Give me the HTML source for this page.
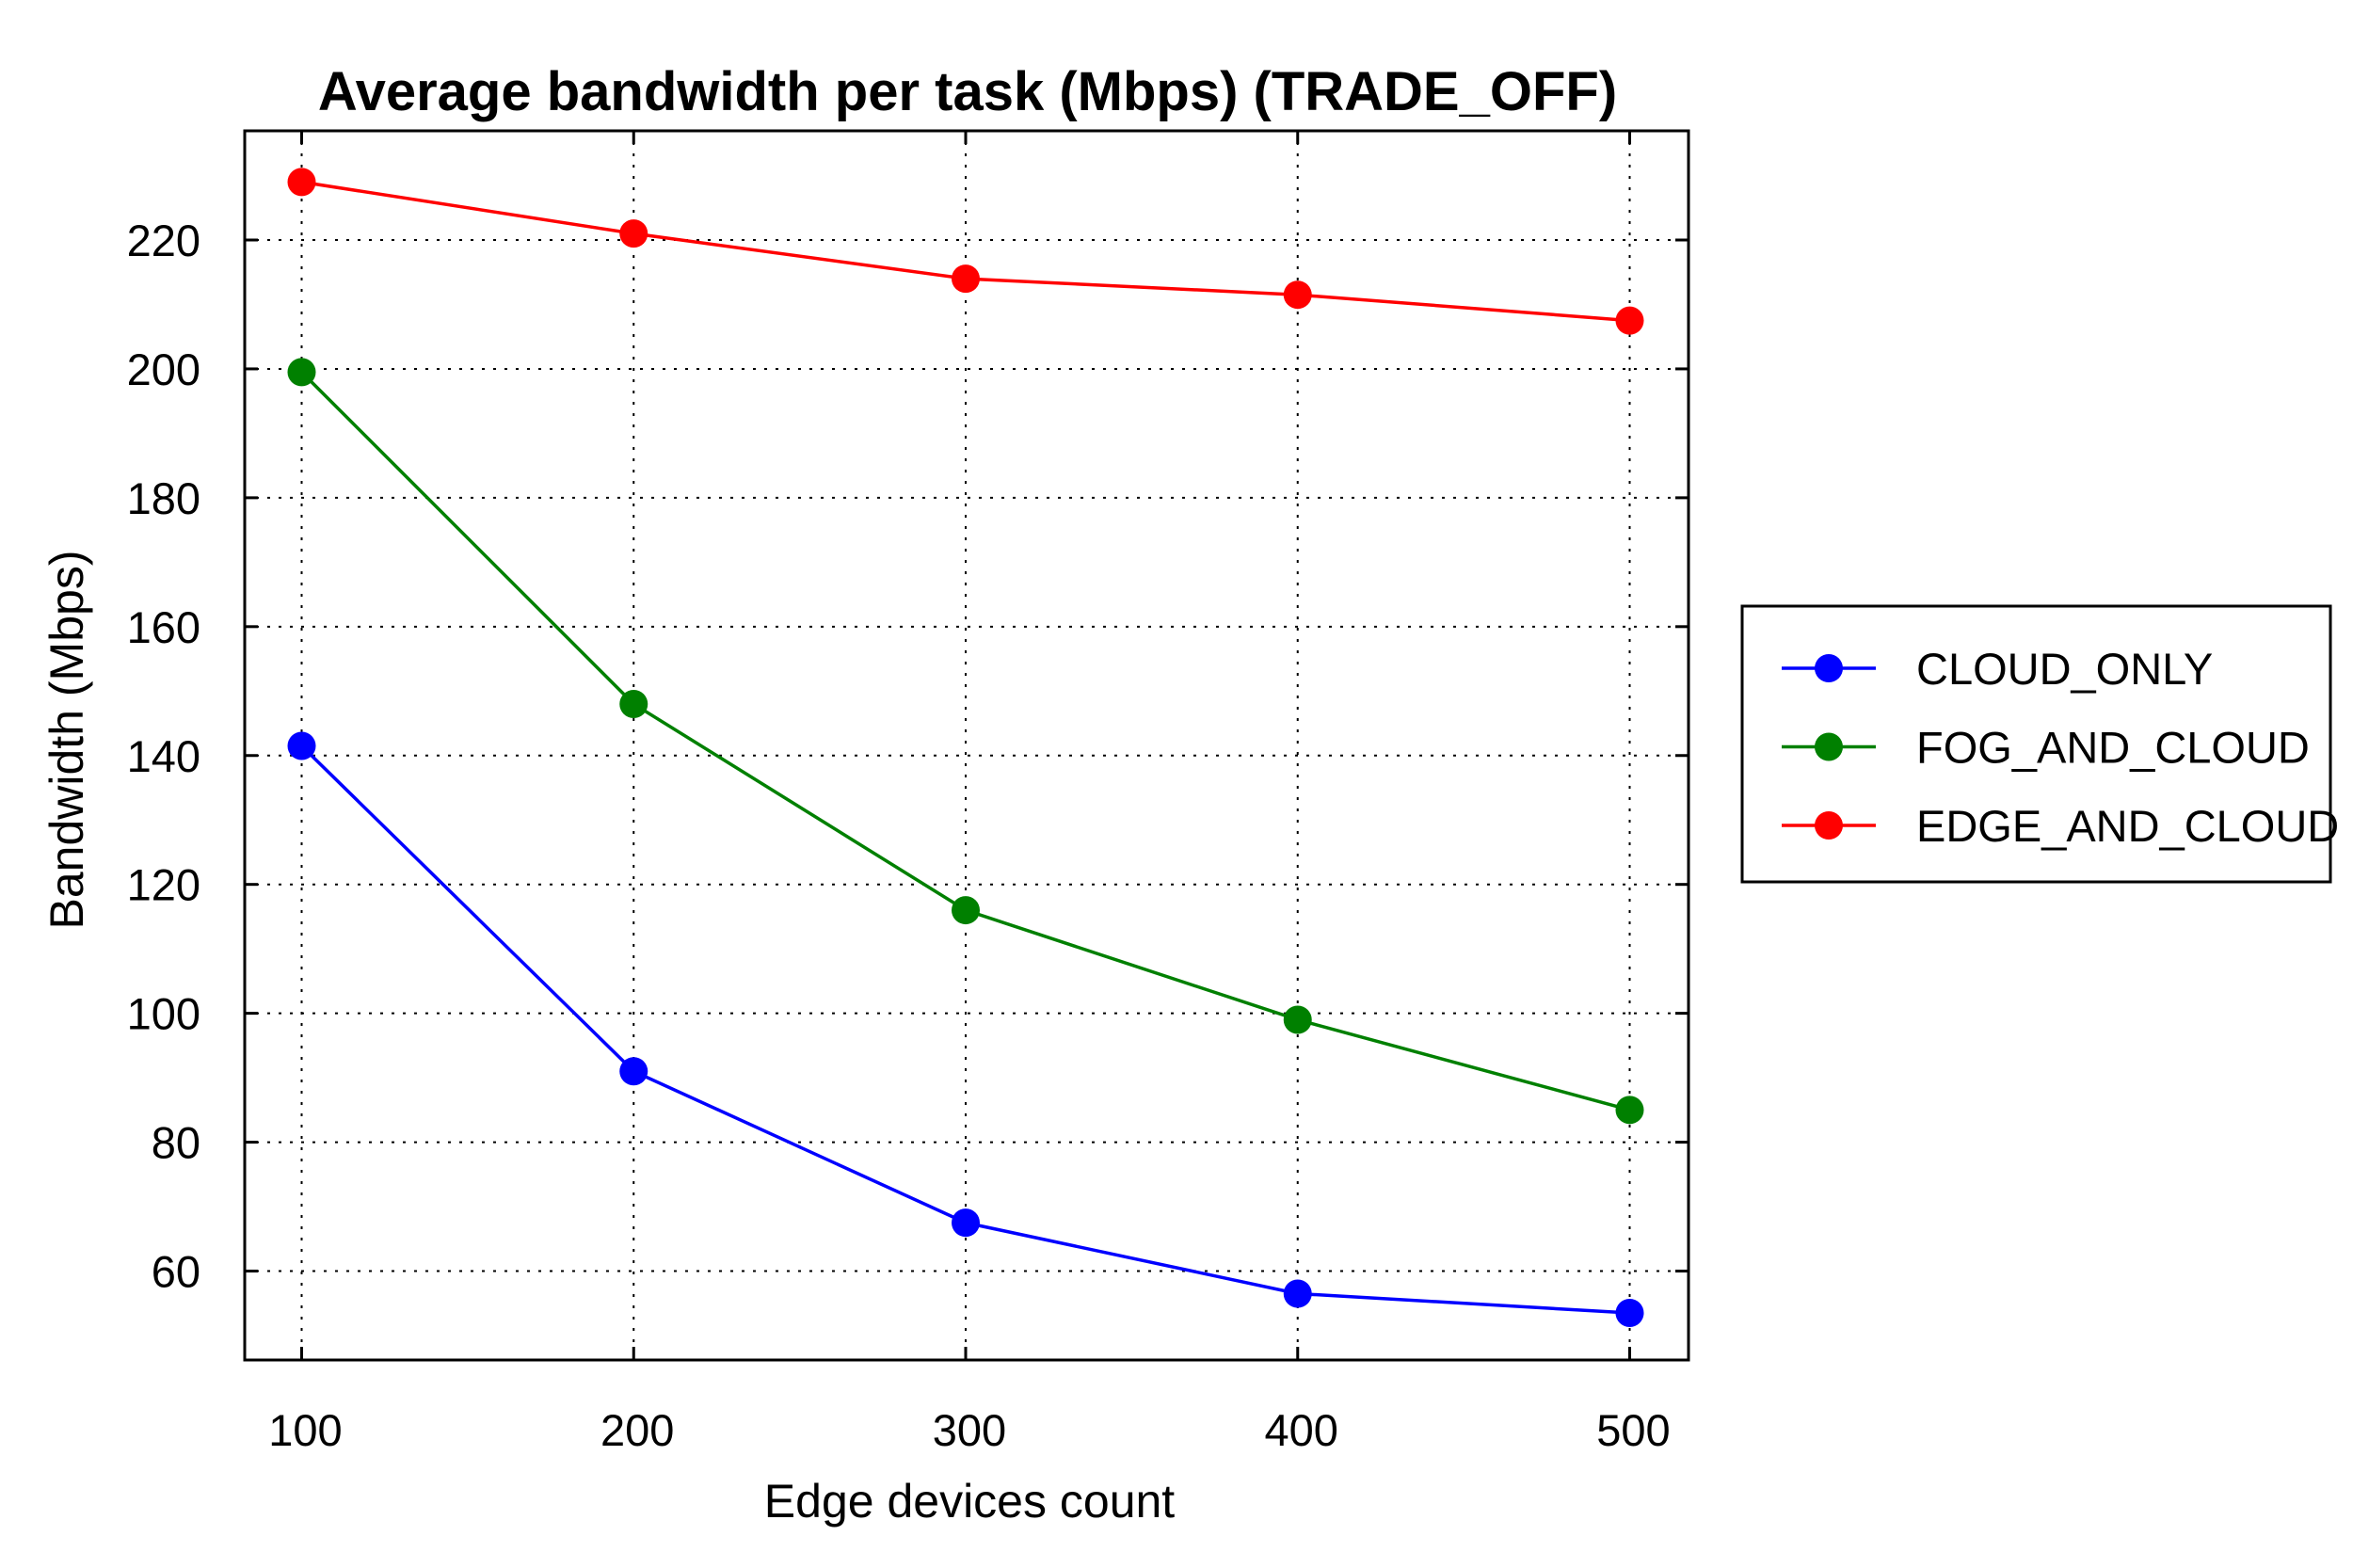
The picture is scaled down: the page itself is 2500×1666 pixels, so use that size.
<!DOCTYPE html>
<html><head><meta charset="utf-8"><style>
html,body{margin:0;padding:0;background:#fff;}
svg{display:block;font-family:"Liberation Sans",Arial,sans-serif;}
</style></head><body>
<svg id="chart" width="2500" height="1666" viewBox="0 0 2500 1666" xmlns="http://www.w3.org/2000/svg">
<rect width="2500" height="1666" fill="#fff"/>
<text x="1028" y="117" font-size="58" font-weight="bold" text-anchor="middle">Average bandwidth per task (Mbps) (TRADE_OFF)</text>
<g id="grid"></g>
<g id="ticks"></g>
<g id="series"></g>
<rect x="260" y="139" width="1534" height="1306" fill="none" stroke="#000" stroke-width="3"/>
<text x="1030" y="1612" font-size="50" text-anchor="middle">Edge devices count</text>
<text transform="translate(88,786) rotate(-90)" font-size="50" text-anchor="middle">Bandwidth (Mbps)</text>
<g id="legend">
<rect x="1851" y="644" width="625" height="293" fill="#fff" stroke="#000" stroke-width="3"/>
</g>
</svg>
<script>
const categories=[100,200,300,400,500];
const seriesNames=["CLOUD_ONLY","FOG_AND_CLOUD","EDGE_AND_CLOUD"];
const cloudOnly=[141.5,91,67.5,56.5,53.5];
const fogAndCloud=[199.5,148,116,99,85];
const edgeAndCloud=[229,221,214,211.5,207.5];
const yTicks=[60,80,100,120,140,160,180,200,220];
const xTicks=[100,200,300,400,500];
const colors=["#0000ff","#008000","#ff0000"];
const NS="http://www.w3.org/2000/svg";
const L=260,R=1794,T=139,B=1445;
function xs(v){return 320.5+(v-100)*(1731.5-320.5)/400;}
function ys(v){return 1350.5-(v-60)*(1350.5-255)/160;}
function mk(tag,attrs,parent){const e=document.createElementNS(NS,tag);for(const k in attrs)e.setAttribute(k,attrs[k]);parent.appendChild(e);return e;}
const grid=document.getElementById('grid'),ticks=document.getElementById('ticks'),ser=document.getElementById('series'),leg=document.getElementById('legend');
yTicks.forEach(v=>{const y=ys(v);
 const g=mk('line',{x1:L,x2:R,y1:y,y2:y,stroke:'#000','stroke-width':2,'stroke-dasharray':'3,9'},grid);
 
 mk('line',{x1:L,x2:L+14,y1:y,y2:y,stroke:'#000','stroke-width':3},ticks);
 mk('line',{x1:R,x2:R-14,y1:y,y2:y,stroke:'#000','stroke-width':3},ticks);
 const t=mk('text',{x:213,y:y+17,'font-size':47,'text-anchor':'end'},ticks);t.textContent=v;
 });
xTicks.forEach(v=>{const x=xs(v);
 const g=mk('line',{x1:x,x2:x,y1:T,y2:B,stroke:'#000','stroke-width':2,'stroke-dasharray':'3,9'},grid);
 
 mk('line',{x1:x,x2:x,y1:B,y2:B-14,stroke:'#000','stroke-width':3},ticks);
 mk('line',{x1:x,x2:x,y1:T,y2:T+14,stroke:'#000','stroke-width':3},ticks);
 const t=mk('text',{x:x+4,y:1536,'font-size':47,'text-anchor':'middle'},ticks);t.textContent=v;
 });
[cloudOnly,fogAndCloud,edgeAndCloud].forEach((d,i)=>{
 const p=mk('polyline',{points:d.map((v,j)=>xs(categories[j])+','+ys(v)).join(' '),fill:'none',stroke:colors[i],'stroke-width':3.5},ser);
 
 d.forEach((v,j)=>{const c=mk('circle',{cx:xs(categories[j]),cy:ys(v),r:15,fill:colors[i]},ser);
  });
 const ly=710+i*83.5;
 const ll=mk('line',{x1:1893,x2:1993,y1:ly,y2:ly,stroke:colors[i],'stroke-width':3.5},leg);
 
 const lc=mk('circle',{cx:1943,cy:ly,r:15,fill:colors[i]},leg);
 
 const lt=mk('text',{x:2036,y:ly+17,'font-size':47},leg);lt.textContent=seriesNames[i];
 
});
</script>
</body></html>
